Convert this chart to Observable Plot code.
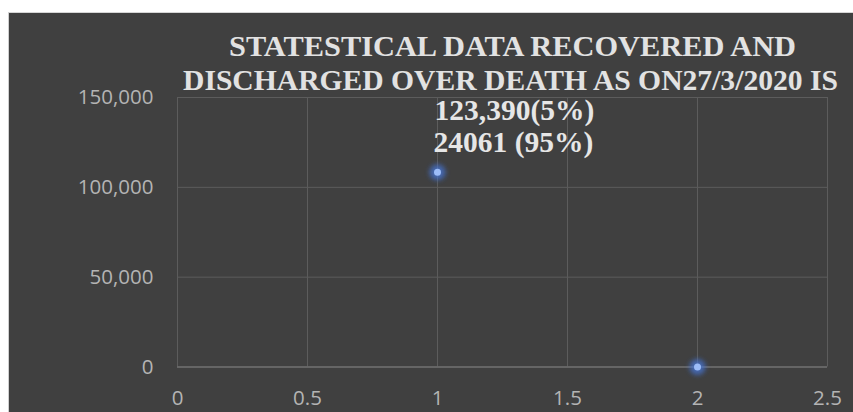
<!DOCTYPE html>
<html>
<head>
<meta charset="utf-8">
<script src="https://cdn.jsdelivr.net/npm/d3@7"></script>
<script src="https://cdn.jsdelivr.net/npm/@observablehq/plot@0.6"></script>
<style>
  html, body { margin: 0; padding: 0; background: #ffffff; }
  #wrap { position: relative; width: 853px; height: 412px; overflow: hidden; }
  #panel { position: absolute; left: 8px; top: 12px; right: 0; bottom: 0; background: #404040; border-left: 1px solid #cfcfcf; border-top: 1px solid #d6d6d6; }
  #chart { position: absolute; left: 0; top: 0; }
</style>
</head>
<body>
<div id="wrap"><div id="panel"></div><div id="chart"></div></div>
<script>
// ---- data ----
const xValues = [1, 2];
const yValues = [108400, 0];
const xTicks = [0, 0.5, 1, 1.5, 2, 2.5];
const yTicks = [0, 50000, 100000, 150000];
const titleLines = ["STATESTICAL DATA RECOVERED AND", "DISCHARGED OVER DEATH AS ON27/3/2020 IS"];
const labelLines = ["123,390(5%)", "24061 (95%)"];

const points = xValues.map((x, i) => ({x, y: yValues[i]}));
const labelPoint = [points[0]];

const serif = "'Liberation Serif', 'Times New Roman', serif";
const sans = "'Open Sans', 'Noto Sans', sans-serif";

const chart = Plot.plot({
  width: 853,
  height: 412,
  marginLeft: 177,
  marginRight: 26,
  marginTop: 97,
  marginBottom: 45.5,
  style: {background: "transparent", color: "#b4b4b4", fontFamily: sans, fontSize: "20px", overflow: "visible"},
  x: {domain: [0, 2.5], ticks: xTicks, label: null},
  y: {domain: [0, 150000], ticks: yTicks, label: null},
  marks: [
    Plot.gridX(xTicks, {stroke: "#5c5c5c", strokeOpacity: 1, strokeWidth: 1}),
    Plot.gridY(yTicks, {stroke: "#5c5c5c", strokeOpacity: 1, strokeWidth: 1}),
    Plot.ruleY([0], {stroke: "#6e6e6e", strokeWidth: 1.5}),
    Plot.axisY(yTicks, {label: null, tickSize: 0, tickPadding: 24, tickFormat: d3.format(","), fontSize: 20.5, fill: "#b4b4b4", fontFamily: sans}),
    Plot.axisX(xTicks, {label: null, tickSize: 0, tickPadding: 23, tickFormat: d => String(d), fontSize: 20.5, fill: "#b4b4b4", fontFamily: sans}),
    Plot.dot(points, {x: "x", y: "y", r: 9, fill: "#3f6fd0", fillOpacity: 0.45, stroke: "none"}),
    Plot.dot(points, {x: "x", y: "y", r: 6, fill: "#4a7ee0", fillOpacity: 0.55, stroke: "none"}),
    Plot.dot(points, {x: "x", y: "y", r: 3.5, fill: "#9cbcf8", stroke: "none"}),
    Plot.text(labelPoint, {x: "x", y: "y", text: () => labelLines[0], textAnchor: "start", lineAnchor: "middle", dx: -3, dy: -61.4, fontFamily: serif, fontWeight: "bold", fontSize: 29.5, fill: "#e6e6e6"}),
    Plot.text(labelPoint, {x: "x", y: "y", text: () => labelLines[1], textAnchor: "start", lineAnchor: "middle", dx: -4, dy: -29.4, fontFamily: serif, fontWeight: "bold", fontSize: 29.5, fill: "#e6e6e6"}),
    Plot.text([titleLines[0]], {frameAnchor: "top", lineAnchor: "middle", text: d => d, dx: 10, dy: -51.4, fontFamily: serif, fontWeight: "bold", fontSize: 29.5, fill: "#e2e2e2"}),
    Plot.text([titleLines[1]], {frameAnchor: "top", lineAnchor: "middle", text: d => d, dx: 8, dy: -17.4, fontFamily: serif, fontWeight: "bold", fontSize: 29.5, fill: "#e2e2e2"})
  ]
});

// soften the dot halos like the reference glow
const svg = d3.select(chart);
const defs = svg.insert("defs", ":first-child");
defs.append("filter").attr("id", "glow").attr("x", "-100%").attr("y", "-100%").attr("width", "300%").attr("height", "300%")
  .append("feGaussianBlur").attr("stdDeviation", 2.2);
svg.selectAll("g[aria-label='dot']").each(function(d, i) {
  if (i < 2) d3.select(this).attr("filter", "url(#glow)");
});
// fit the title widths to the reference
const widths = {[titleLines[0]]: 567, [titleLines[1]]: 655};
svg.selectAll("text").each(function() {
  const t = this.textContent;
  if (widths[t]) d3.select(this).attr("textLength", widths[t]).attr("lengthAdjust", "spacingAndGlyphs");
});

document.getElementById("chart").appendChild(chart);
</script>
</body>
</html>
